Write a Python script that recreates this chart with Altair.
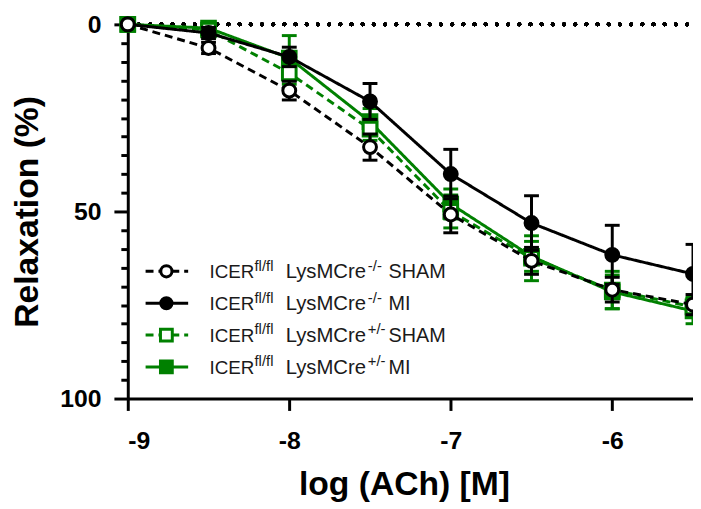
import altair as alt
import pandas as pd

# ---------------- data ----------------
log_ach = [-9, -8.5, -8, -7.5, -7, -6.5, -6, -5.5]

ko_sham_mean = [0, 6.3, 17.7, 32.8, 50.8, 63.2, 70.9, 74.9]
ko_sham_sem = [0, 1.5, 2.5, 3.5, 4.9, 3.6, 3.3, 2.7]

ko_mi_mean = [0, 2.3, 8.7, 20.6, 40.0, 53.1, 61.6, 66.7]
ko_mi_sem = [0, 1.5, 2.6, 4.8, 6.6, 7.3, 7.9, 7.9]

het_sham_mean = [0, 1.5, 13.0, 28.0, 50.0, 62.5, 71.0, 75.5]
het_sham_sem = [0, 1.0, 3.0, 3.0, 4.4, 6.0, 5.0, 2.5]

het_mi_mean = [0, 1.0, 9.0, 26.0, 48.0, 62.0, 71.5, 76.6]
het_mi_sem = [0, 1.0, 6.0, 3.5, 4.0, 4.0, 4.5, 3.4]

series_keys = ["ko_sham", "ko_mi", "het_sham", "het_mi"]
legend_main1 = ["ICER", "ICER", "ICER", "ICER"]
legend_sup1 = ["fl/fl", "fl/fl", "fl/fl", "fl/fl"]
legend_main2 = ["LysMCre", "LysMCre", "LysMCre", "LysMCre"]
legend_sup2 = ["-/-", "-/-", "+/-", "+/-"]
legend_group = ["SHAM", "MI", "SHAM", "MI"]

y_ticks = list(range(0, 101, 5))
x_ticks = [-9, -8, -7, -6]

# ---------------- build tables ----------------
means = {"ko_sham": ko_sham_mean, "ko_mi": ko_mi_mean,
         "het_sham": het_sham_mean, "het_mi": het_mi_mean}
sems = {"ko_sham": ko_sham_sem, "ko_mi": ko_mi_sem,
        "het_sham": het_sham_sem, "het_mi": het_mi_sem}
rows = []
for k in series_keys:
    for x, m, s in zip(log_ach, means[k], sems[k]):
        rows.append({"series": k, "x": x, "y": m, "lo": m - s, "hi": m + s})
df = pd.DataFrame(rows)

leg = pd.DataFrame({"series": series_keys, "main1": legend_main1, "sup1": legend_sup1,
                    "main2": legend_main2, "sup2": legend_sup2, "group": legend_group})

GREEN = "#008000"
style = {
    "het_mi": dict(color=GREEN, dash=[1, 0], shape="square", filled=True, size=190),
    "het_sham": dict(color=GREEN, dash=[8, 5], shape="square", filled=False, size=190),
    "ko_mi": dict(color="black", dash=[1, 0], shape="circle", filled=True, size=170),
    "ko_sham": dict(color="black", dash=[8, 5], shape="circle", filled=False, size=170),
}
draw_order = ["het_mi", "het_sham", "ko_mi", "ko_sham"]

FONT = "Liberation Sans, Arial, Helvetica, sans-serif"

xs = alt.Scale(domain=[-9, -5.5], nice=False, zero=False)
ys = alt.Scale(domain=[0, 100], reverse=True, nice=False, zero=False)

x_axis = alt.Axis(values=x_ticks, labelExpr="'' + datum.value", tickSize=12, tickWidth=3,
                  tickColor="black", domainWidth=3, domainColor="black", labelFont=FONT,
                  labelFontWeight="bold", labelFontSize=25, labelColor="black", labelPadding=18,
                  grid=False,
                  titleFont=FONT, titleFontWeight="bold", titleFontSize=34, titleColor="black",
                  titleBaseline="alphabetic", titleY=97, titleX=279)
y_axis = alt.Axis(values=y_ticks,
                  tickSize=alt.condition("datum.value % 50 === 0", alt.value(14), alt.value(7)),
                  labelExpr="datum.value % 50 === 0 ? datum.label : ''",
                  tickWidth=3, tickColor="black", domainWidth=3, domainColor="black",
                  labelFont=FONT, labelFontWeight="bold", labelFontSize=25, labelColor="black",
                  labelPadding=13, grid=False,
                  titleFont=FONT, titleFontWeight="bold", titleFontSize=34, titleColor="black",
                  titleBaseline="bottom", titleX=-84, titleY=189)

X = alt.X("x:Q", scale=xs, axis=x_axis, title="log (ACh) [M]")
Y = alt.Y("y:Q", scale=ys, axis=y_axis, title="Relaxation (%)")

layers = []

# dotted zero line
layers.append(
    alt.Chart(df).mark_rule(color="black", strokeWidth=4, strokeDash=[0, 11.3], strokeCap="round")
    .encode(x=alt.X(datum=log_ach[0], scale=xs, axis=x_axis, title="log (ACh) [M]"),
            x2=alt.datum(log_ach[-1]),
            y=alt.Y(datum=0, scale=ys, axis=y_axis, title="Relaxation (%)"))
)

for k in draw_order:
    st = style[k]
    base = alt.Chart(df).transform_filter(alt.datum.series == k)
    # error bars
    layers.append(base.mark_rule(color=st["color"], strokeWidth=3).encode(
        x=X, y=alt.Y("lo:Q", scale=ys, axis=y_axis, title="Relaxation (%)"), y2="hi:Q"))
    for f in ["lo", "hi"]:
        layers.append(base.mark_tick(color=st["color"], size=15, thickness=3, orient="horizontal",
                                     opacity=1).encode(
            x=X, y=alt.Y(f + ":Q", scale=ys, axis=y_axis, title="Relaxation (%)")))
    # line
    layers.append(base.mark_line(color=st["color"], strokeWidth=3, strokeDash=st["dash"]).encode(
        x=X, y=Y))
    # markers
    layers.append(base.mark_point(shape=st["shape"], filled=True, opacity=1, size=st["size"],
                                  fill=st["color"] if st["filled"] else "white",
                                  stroke=st["color"], strokeWidth=3).encode(x=X, y=Y))

# ---------------- custom legend ----------------
LEG_Y0 = 249.5
LEG_DY = 32.2
TX = 82.5
for i, k in enumerate(series_keys):
    st = style[k]
    sy = LEG_Y0 + i * LEG_DY
    by = sy + 6.8
    lb = alt.Chart(leg).transform_filter(alt.datum.series == k)
    layers.append(lb.mark_rule(color=st["color"], strokeWidth=3, strokeDash=st["dash"]).encode(
        x=alt.value(18), x2=alt.value(61), y=alt.value(sy)))
    layers.append(lb.mark_point(shape=st["shape"], filled=True, opacity=1,
                                size=st["size"] * 0.75,
                                fill=st["color"] if st["filled"] else "white",
                                stroke=st["color"], strokeWidth=3).encode(
        x=alt.value(39), y=alt.value(sy)))
    for field, dx, dy, fs in [("main1", 0, 0, 19), ("sup1", 45.5, -7.5, 15),
                              ("main2", 77, 0, 20.5), ("sup2", 160, -7.5, 15),
                              ("group", 181, 0, 20)]:
        layers.append(lb.mark_text(align="left", baseline="alphabetic", font=FONT,
                                   fontSize=fs, color="#1a1a1a").encode(
            x=alt.value(TX + dx), y=alt.value(by + dy), text=alt.Text(field + ":N")))

chart = alt.layer(*layers).properties(
    width=571, height=378,
    autosize=alt.AutoSizeParams(type="none"),
    padding={"left": 121, "top": 14, "right": 0, "bottom": 105},
    background="white",
).configure_view(stroke=None)

chart.save("out.html", embed_options={"renderer": "svg", "actions": False})
